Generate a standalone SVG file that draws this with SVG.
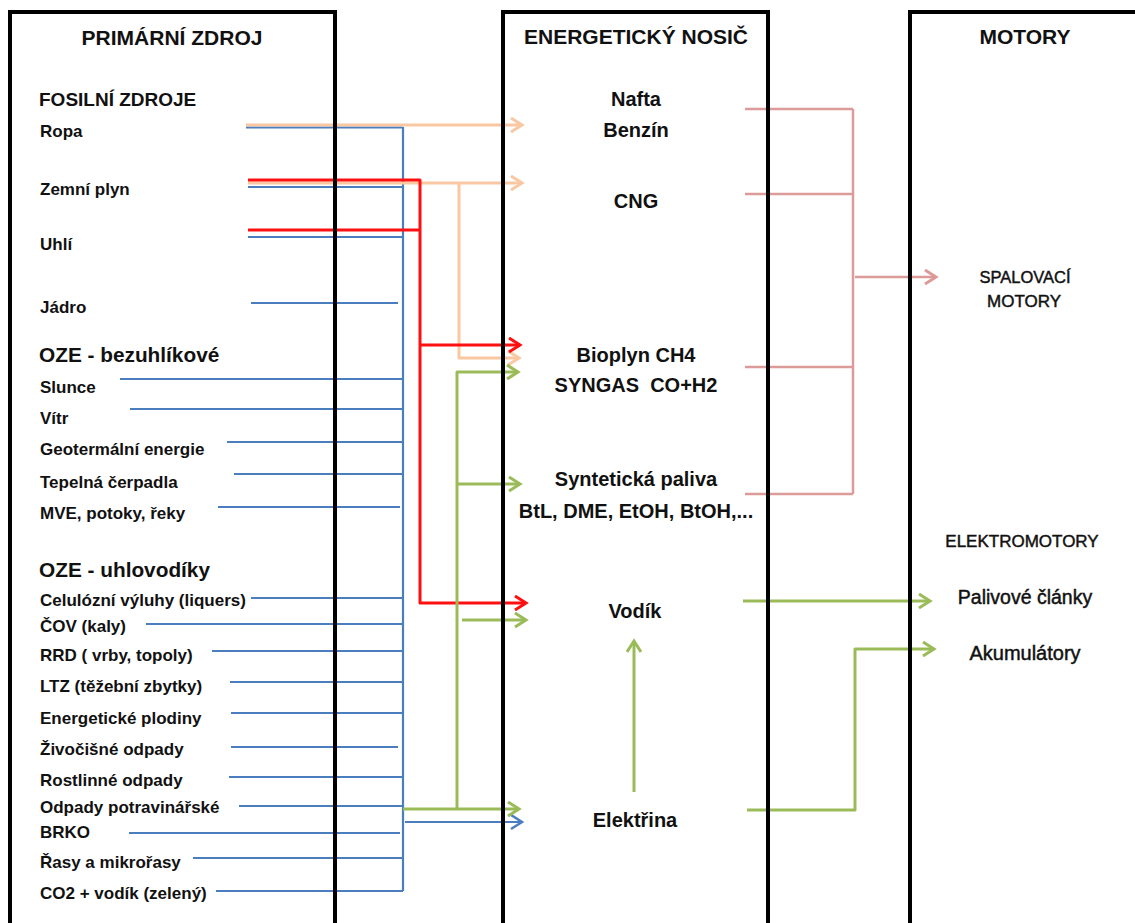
<svg xmlns="http://www.w3.org/2000/svg" width="1135" height="923" viewBox="0 0 1135 923">
<style>
.frame{fill:none;stroke:#000;stroke-width:4}
text{font-family:"Liberation Sans",Arial,sans-serif;fill:#111}
.title{font-size:21px;font-weight:bold;text-anchor:middle}
.hdr{font-weight:bold}
.src{font-size:17px;font-weight:bold}
.mid{font-size:20px;font-weight:bold;text-anchor:middle}
.mot{font-weight:normal;text-anchor:middle;stroke:#111;stroke-width:0.45}
.c{fill:none;stroke-linecap:butt;stroke-linejoin:round}
.blue{stroke:#4a7ebf;stroke-width:2.2}
.red{stroke:#ff1010;stroke-width:3}
.peach{stroke:#f9c8a2;stroke-width:3}
.green{stroke:#9bbb59;stroke-width:3}
.pink{stroke:#dc9a98;stroke-width:2.5}
</style>
<defs>
<marker id="ab" markerUnits="userSpaceOnUse" markerWidth="16" markerHeight="18" refX="13" refY="8" orient="auto"><path d="M2,1 L13,8 L2,15" fill="none" stroke="#4a7ebf" stroke-width="2.5"/></marker>
<marker id="ar" markerUnits="userSpaceOnUse" markerWidth="16" markerHeight="18" refX="13" refY="8" orient="auto"><path d="M2,1 L13,8 L2,15" fill="none" stroke="#ff1010" stroke-width="3"/></marker>
<marker id="ap" markerUnits="userSpaceOnUse" markerWidth="16" markerHeight="18" refX="13" refY="8" orient="auto"><path d="M2,1 L13,8 L2,15" fill="none" stroke="#f9c8a2" stroke-width="3"/></marker>
<marker id="ag" markerUnits="userSpaceOnUse" markerWidth="16" markerHeight="18" refX="13" refY="8" orient="auto"><path d="M2,1 L13,8 L2,15" fill="none" stroke="#9bbb59" stroke-width="3"/></marker>
<marker id="ak" markerUnits="userSpaceOnUse" markerWidth="16" markerHeight="18" refX="13" refY="8" orient="auto"><path d="M2,1 L13,8 L2,15" fill="none" stroke="#dc9a98" stroke-width="3"/></marker>
</defs>
<rect width="1135" height="923" fill="#fff"/>

<g id="connectors">
  <g class="c blue">
    <path d="M246,127.5H403M248,187H403M248,237H403M251,303H398M120,379H403M130,409H403M227,442H403M234,474H403M218,507H400M251,598H403M146,624H403M212,651H403M230,682H403M231,713H403M231,747H398M229,777H403M239,806H403M129,833H400M193,858H403M216,891H403"/>
    <path d="M403,127V891"/>
    <path d="M405,822H522" marker-end="url(#ab)"/>
  </g>
  <g class="c peach">
    <path d="M246,125H522" marker-end="url(#ap)"/>
    <path d="M248,183H522" marker-end="url(#ap)"/>
    <path d="M459,183V358H519" marker-end="url(#ap)"/>
  </g>
  <g class="c red">
    <path d="M248,180H420V603H526" marker-end="url(#ar)"/>
    <path d="M248,230H420"/>
    <path d="M420,345H520" marker-end="url(#ar)"/>
  </g>
  <g class="c green">
    <path d="M403,809H519" marker-end="url(#ag)"/>
    <path d="M457,809V372H518" marker-end="url(#ag)"/>
    <path d="M457,484H520" marker-end="url(#ag)"/>
    <path d="M462,620H526" marker-end="url(#ag)"/>
    <path d="M634,792V641" marker-end="url(#ag)"/>
    <path d="M743,601H930" marker-end="url(#ag)"/>
    <path d="M747,810H855V649H934" marker-end="url(#ag)"/>
  </g>
  <g class="c pink">
    <path d="M745,109H853M745,194H853M745,367H853M745,494H853M853,109V494"/>
    <path d="M855,277H936" marker-end="url(#ak)"/>
  </g>
</g>

<g id="col-primarni-zdroj">
  <path class="frame" d="M10,925V12H335V925"/>
  <text class="title" x="172" y="45">PRIMÁRNÍ ZDROJ</text>
</g>
<g id="col-energeticky-nosic">
  <path class="frame" d="M503,925V12H768V925"/>
  <text class="title" x="636" y="44">ENERGETICKÝ NOSIČ</text>
</g>
<g id="col-motory">
  <path class="frame" d="M910,925V12H1140"/>
  <text class="title" x="1025" y="44">MOTORY</text>
</g>

<g id="hdr-fosilni"><text class="hdr" x="39" y="106" font-size="19">FOSILNÍ ZDROJE</text></g>
<g id="src-ropa"><text class="src" x="40" y="137">Ropa</text></g>
<g id="src-zemni-plyn"><text class="src" x="40" y="195">Zemní plyn</text></g>
<g id="src-uhli"><text class="src" x="40" y="250">Uhlí</text></g>
<g id="src-jadro"><text class="src" x="40" y="313">Jádro</text></g>
<g id="hdr-oze-bezuhlikove"><text class="hdr" x="39" y="362" font-size="20.8">OZE - bezuhlíkové</text></g>
<g id="src-slunce"><text class="src" x="40" y="393">Slunce</text></g>
<g id="src-vitr"><text class="src" x="40" y="424">Vítr</text></g>
<g id="src-geotermalni"><text class="src" x="40" y="455">Geotermální energie</text></g>
<g id="src-tepelna"><text class="src" x="40" y="488">Tepelná čerpadla</text></g>
<g id="src-mve"><text class="src" x="40" y="519">MVE, potoky, řeky</text></g>
<g id="hdr-oze-uhlovodiky"><text class="hdr" x="39" y="577" font-size="20.8">OZE - uhlovodíky</text></g>
<g id="src-celulozni"><text class="src" x="40" y="606">Celulózní výluhy (liquers)</text></g>
<g id="src-cov"><text class="src" x="40" y="632">ČOV (kaly)</text></g>
<g id="src-rrd"><text class="src" x="40" y="661">RRD ( vrby, topoly)</text></g>
<g id="src-ltz"><text class="src" x="40" y="692">LTZ (těžební zbytky)</text></g>
<g id="src-plodiny"><text class="src" x="40" y="724">Energetické plodiny</text></g>
<g id="src-zivocisne"><text class="src" x="40" y="755">Živočišné odpady</text></g>
<g id="src-rostlinne"><text class="src" x="40" y="786">Rostlinné odpady</text></g>
<g id="src-potravinarske"><text class="src" x="40" y="813">Odpady potravinářské</text></g>
<g id="src-brko"><text class="src" x="40" y="838">BRKO</text></g>
<g id="src-rasy"><text class="src" x="40" y="868">Řasy a mikrořasy</text></g>
<g id="src-co2"><text class="src" x="40" y="899">CO2 + vodík (zelený)</text></g>

<g id="nos-nafta-benzin"><text class="mid" x="636" y="106">Nafta</text><text class="mid" x="636" y="137">Benzín</text></g>
<g id="nos-cng"><text class="mid" x="636" y="208">CNG</text></g>
<g id="nos-bioplyn"><text class="mid" x="636" y="362">Bioplyn CH4</text><text class="mid" x="636" y="392" style="white-space:pre">SYNGAS  CO+H2</text></g>
<g id="nos-synteticka"><text class="mid" x="636" y="486">Syntetická paliva</text><text class="mid" x="636" y="518">BtL, DME, EtOH, BtOH,...</text></g>
<g id="nos-vodik"><text class="mid" x="635" y="618">Vodík</text></g>
<g id="nos-elektrina"><text class="mid" x="635" y="827">Elektřina</text></g>

<g id="mot-spalovaci"><text class="mot" x="1025" y="283" font-size="16.5">SPALOVACÍ</text><text class="mot" x="1024" y="307" font-size="17">MOTORY</text></g>
<g id="mot-elektromotory"><text class="mot" x="1022" y="547" font-size="17">ELEKTROMOTORY</text></g>
<g id="mot-palivove-clanky"><text class="mot" x="1025" y="604" font-size="19.5">Palivové články</text></g>
<g id="mot-akumulatory"><text class="mot" x="1025" y="660" font-size="20">Akumulátory</text></g>
</svg>
